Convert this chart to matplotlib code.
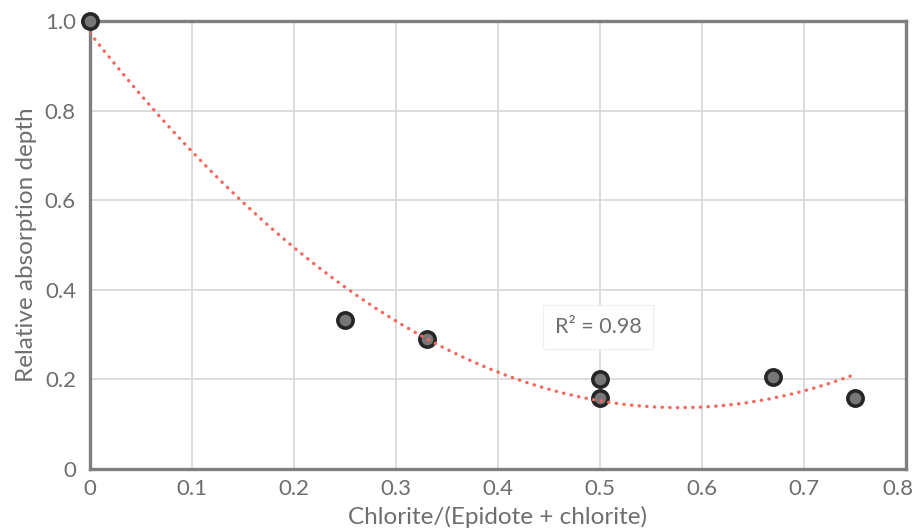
import numpy as np
import matplotlib
matplotlib.use("Agg")
import matplotlib.pyplot as plt
import matplotlib.transforms as mtransforms

# chlorite ratio vs relative absorption depth
ratio = [0.0, 0.25, 0.33, 0.5, 0.5, 0.67, 0.75]
depth = [1.0, 0.333, 0.29, 0.2, 0.158, 0.205, 0.158]
r2_text = "R² = 0.98"

plt.rcParams['font.family'] = ['Lato', 'DejaVu Sans']

fig = plt.figure(figsize=(9.17, 5.31), dpi=100)
ax = fig.add_axes([0.098, 0.117, 0.89, 0.843])

# 2nd order trend line like excel
coef = np.polyfit(ratio, depth, 2)
xs = np.linspace(min(ratio), max(ratio), 200)
ax.plot(xs, np.polyval(coef, xs), color='#f4675c', linestyle=(0, (0.1, 2.2)),
        linewidth=2.4, dash_capstyle='round', zorder=4)

ax.plot(ratio, depth, 'o', markersize=11, markerfacecolor='#777777',
        markeredgecolor='#262626', markeredgewidth=2.6, zorder=3, clip_on=False)

ax.set_xlim(0, 0.8)
ax.set_ylim(0, 1.0)
ax.set_xticks(np.arange(0, 0.81, 0.1))
ax.set_xticklabels(['0', '0.1', '0.2', '0.3', '0.4', '0.5', '0.6', '0.7', '0.8'])
ax.set_yticks(np.arange(0, 1.01, 0.2))
ax.set_yticklabels(['0', '0.2', '0.4', '0.6', '0.8', '1.0'])
ax.grid(True, color='#d9d9d9', linewidth=1.3)
ax.set_axisbelow(True)
for s in ax.spines.values():
    s.set_color('#7f7f7f')
    s.set_linewidth(2.4)
ax.tick_params(axis='x', length=0, labelsize=16, colors='#6e6e6e', pad=7)
ax.tick_params(axis='y', length=0, labelsize=16, colors='#6e6e6e', pad=10)

# last x label pushed in so it stays on the canvas
last = ax.get_xticklabels()[-1]
last.set_transform(last.get_transform() + mtransforms.ScaledTranslation(-8 / 100, 0, fig.dpi_scale_trans))

ax.set_xlabel('Chlorite/(Epidote + chlorite)', fontsize=17.5, color='#6e6e6e', labelpad=5)
ax.set_ylabel('Relative absorption depth', fontsize=17.5, color='#6e6e6e', labelpad=6)

ax.text(0.498, 0.317, r2_text, fontsize=15.5, color='#6e6e6e', ha='center', va='center',
        bbox=dict(boxstyle='square,pad=0.55', facecolor='white', edgecolor='#f0f0f0'),
        zorder=5)

fig.savefig('out.png', dpi=100)
